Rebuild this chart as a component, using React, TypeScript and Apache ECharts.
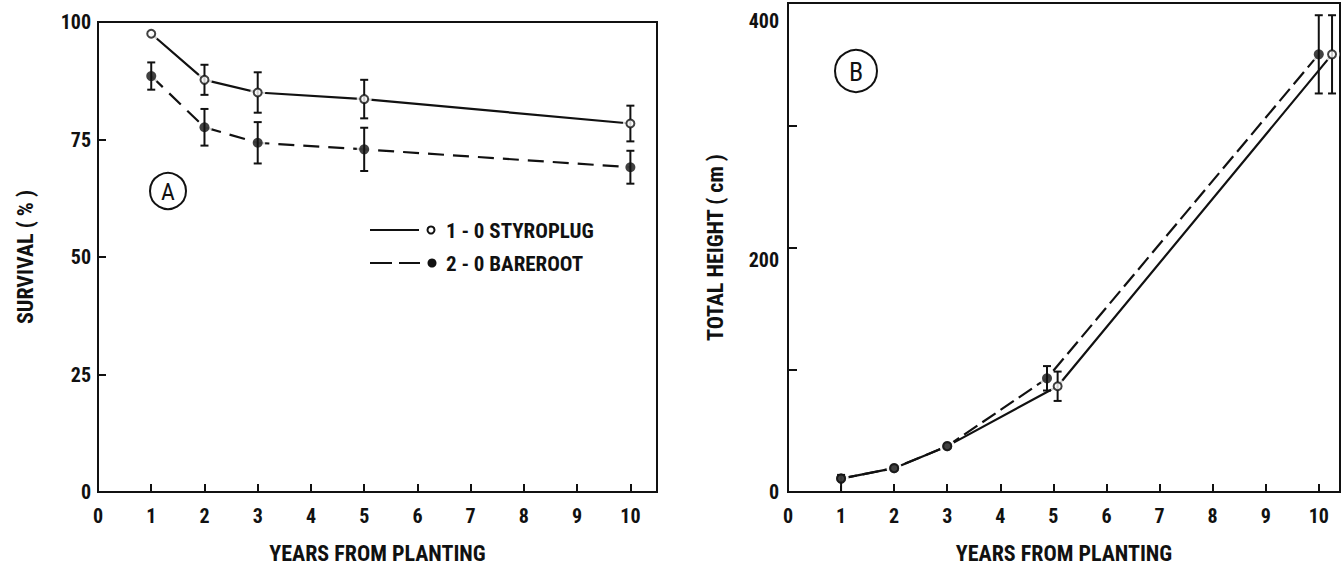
import React, { useEffect, useRef } from "react";
import * as echarts from "echarts";

// ---- Panel A: survival (%) ----
const YEARS_A = [1, 2, 3, 5, 10];
const STYRO_A = [97.5, 87.7, 85.0, 83.6, 78.4];
const STYRO_A_ERR = [0, 3.2, 4.3, 4.1, 3.8];
const BARE_A = [88.5, 77.6, 74.3, 72.9, 69.1];
const BARE_A_ERR = [2.9, 3.9, 4.4, 4.6, 3.5];
const TICKS_A_Y = ["0", "25", "50", "75", "100"];

// ---- Panel B: total height (cm) ----
const STYRO_B_X = [1, 2, 3, 5.08, 10.25];
const STYRO_B = [11, 19.5, 37.5, 86.5, 358];
const STYRO_B_LO = [0, 0, 0, 12, 32];
const STYRO_B_HI = [0, 0, 0, 12, 32];
const BARE_B_X = [1, 2, 3, 4.88, 10];
const BARE_B = [11, 19.5, 37.5, 93, 358];
const BARE_B_LO = [11, 0, 0, 10, 32];
const BARE_B_HI = [3, 0, 0, 10, 32];
const TICKS_B_Y = ["0", "200", "400"];

const LEGEND = ["1 - 0 STYROPLUG", "2 - 0 BAREROOT"];
const X_TITLE = "YEARS FROM PLANTING";

const INK = "#111";
const FONT = '"Liberation Sans Narrow", "Arial Narrow", "Roboto Condensed", sans-serif';

function pairs(xs: number[], ys: number[]) {
  return xs.map((x, i) => [x, ys[i]]);
}
function errs(xs: number[], ys: number[], lo: number[], hi: number[]) {
  const out: number[][] = [];
  xs.forEach((x, i) => {
    if (lo[i] > 0 || hi[i] > 0) out.push([x, ys[i] - lo[i], ys[i] + hi[i]]);
  });
  return out;
}

function errRender(params: any, api: any) {
  const x = api.value(0);
  const top = api.coord([x, api.value(2)]);
  const bot = api.coord([x, api.value(1)]);
  const w = 4;
  const st = { stroke: INK, lineWidth: 2 };
  return {
    type: "group",
    children: [
      { type: "line", shape: { x1: top[0], y1: top[1], x2: bot[0], y2: bot[1] }, style: st },
      { type: "line", shape: { x1: top[0] - w, y1: top[1], x2: top[0] + w, y2: top[1] }, style: st },
      { type: "line", shape: { x1: bot[0] - w, y1: bot[1], x2: bot[0] + w, y2: bot[1] }, style: st },
    ],
  };
}

function panelSeries(
  idx: number,
  sx: number[], sy: number[], slo: number[], shi: number[],
  bx: number[], by: number[], blo: number[], bhi: number[],
  dash: number[]
) {
  const common = { xAxisIndex: idx, yAxisIndex: idx };
  return [
    {
      ...common, type: "line", name: LEGEND[0], data: pairs(sx, sy), showSymbol: false,
      lineStyle: { color: INK, width: 2.2 }, z: 2,
    },
    {
      ...common, type: "line", name: LEGEND[1], data: pairs(bx, by), showSymbol: false,
      lineStyle: { color: INK, width: 2.2, type: dash }, z: 2,
    },
    {
      ...common, type: "scatter", data: pairs(sx, sy).concat(pairs(bx, by)), symbolSize: 15,
      itemStyle: { color: "#fff" }, z: 3, silent: true,
    },
    {
      ...common, type: "custom", renderItem: errRender, data: errs(sx, sy, slo, shi),
      encode: { x: 0, y: [1, 2] }, z: 4,
    },
    {
      ...common, type: "custom", renderItem: errRender, data: errs(bx, by, blo, bhi),
      encode: { x: 0, y: [1, 2] }, z: 4,
    },
    {
      ...common, type: "scatter", data: pairs(sx, sy), symbolSize: 8,
      itemStyle: { color: "#fff", borderColor: INK, borderWidth: 2 }, z: 5,
    },
    {
      ...common, type: "scatter", data: pairs(bx, by), symbolSize: 10,
      itemStyle: { color: INK }, z: 6,
    },
  ];
}

export default function App() {
  const ref = useRef<HTMLDivElement>(null);
  useEffect(() => {
    if (!ref.current) return;
    const chart = echarts.init(ref.current, null, { renderer: "svg" });
    const labelStyle = { color: INK, fontSize: 20, fontWeight: "bold", fontFamily: FONT };
    const axisLine = { show: true, lineStyle: { color: INK, width: 2 } };
    const tick = (len: number) => ({ show: true, inside: true, length: len, lineStyle: { color: INK, width: 2 } });
    const nameStyle = { color: INK, fontSize: 22, fontWeight: "bold", fontFamily: FONT };
    const gridBase = { show: true, borderColor: INK, borderWidth: 2, backgroundColor: "transparent", containLabel: false };
    const intFmt = (v: number) => (Number.isInteger(v) ? String(v) : "");

    chart.setOption({
      animation: false,
      backgroundColor: "#fff",
      grid: [
        { ...gridBase, left: 98, top: 22, width: 559, height: 472 },
        { ...gridBase, left: 788, top: 3, width: 553, height: 491 },
      ],
      xAxis: [
        {
          gridIndex: 0, type: "value", min: 0, max: 10.5, interval: 1,
          axisLine, axisTick: tick(8), splitLine: { show: false },
          axisLabel: { ...labelStyle, margin: 14, formatter: intFmt },
          name: X_TITLE, nameLocation: "middle", nameGap: 50, nameTextStyle: nameStyle,
        },
        {
          gridIndex: 1, type: "value", min: 0, max: 10.4, interval: 1,
          axisLine, axisTick: tick(8), splitLine: { show: false },
          axisLabel: { ...labelStyle, margin: 14, formatter: intFmt },
          name: X_TITLE, nameLocation: "middle", nameGap: 50, nameTextStyle: nameStyle,
        },
      ],
      yAxis: [
        {
          gridIndex: 0, type: "value", min: 0, max: 100, interval: 25,
          axisLine, axisTick: tick(8), splitLine: { show: false },
          axisLabel: { ...labelStyle, margin: 7, formatter: (v: number) => (TICKS_A_Y.includes(String(v)) ? String(v) : "") },
          name: "SURVIVAL ( % )", nameLocation: "middle", nameGap: 62, nameTextStyle: nameStyle,
        },
        {
          gridIndex: 1, type: "value", min: 0, max: 400, interval: 100,
          axisLine, axisTick: tick(9), splitLine: { show: false },
          axisLabel: {
            ...labelStyle, margin: 9,
            formatter: (v: number) => {
              const s = String(v);
              if (!TICKS_B_Y.includes(s)) return "";
              if (v === 400) return "{t|" + s + "}";
              if (v === 200) return "{m|" + s + "}";
              return s;
            },
            rich: {
              t: { ...labelStyle, padding: [36, 0, 0, 0] },
              m: { ...labelStyle, padding: [24, 0, 0, 0] },
            },
          },
          name: "TOTAL HEIGHT ( cm )", nameLocation: "middle", nameGap: 62, nameTextStyle: nameStyle,
        },
      ],
      series: [
        ...panelSeries(0, YEARS_A, STYRO_A, STYRO_A_ERR, STYRO_A_ERR, YEARS_A, BARE_A, BARE_A_ERR, BARE_A_ERR, [16, 9]),
        ...panelSeries(1, STYRO_B_X, STYRO_B, STYRO_B_LO, STYRO_B_HI, BARE_B_X, BARE_B, BARE_B_LO, BARE_B_HI, [16, 6]),
      ],
      graphic: [
        // panel labels
        { type: "circle", shape: { cx: 168, cy: 191, r: 18 }, style: { fill: "none", stroke: INK, lineWidth: 2 } },
        { type: "text", x: 168, y: 192, style: { text: "A", fill: INK, fontSize: 24, fontFamily: FONT, align: "center", verticalAlign: "middle" } },
        { type: "circle", shape: { cx: 856, cy: 71, r: 21 }, style: { fill: "none", stroke: INK, lineWidth: 2 } },
        { type: "text", x: 856, y: 72, style: { text: "B", fill: INK, fontSize: 26, fontFamily: FONT, align: "center", verticalAlign: "middle" } },
        // legend
        { type: "line", shape: { x1: 370, y1: 230, x2: 419, y2: 230 }, style: { stroke: INK, lineWidth: 2.2 } },
        { type: "circle", shape: { cx: 431, cy: 230, r: 3.5 }, style: { fill: "#fff", stroke: INK, lineWidth: 2 } },
        { type: "text", x: 446, y: 231, style: { text: LEGEND[0], fill: INK, fontSize: 21, fontWeight: "bold", fontFamily: FONT, verticalAlign: "middle" } },
        { type: "line", shape: { x1: 370, y1: 263, x2: 420, y2: 263 }, style: { stroke: INK, lineWidth: 2.2, lineDash: [22, 7] } },
        { type: "circle", shape: { cx: 432, cy: 263, r: 4.5 }, style: { fill: INK } },
        { type: "text", x: 446, y: 264, style: { text: LEGEND[1], fill: INK, fontSize: 21, fontWeight: "bold", fontFamily: FONT, verticalAlign: "middle" } },
      ],
    });
    return () => chart.dispose();
  }, []);
  return <div ref={ref} style={{ position: "fixed", left: 0, top: 0, width: 1343, height: 569 }} />;
}
